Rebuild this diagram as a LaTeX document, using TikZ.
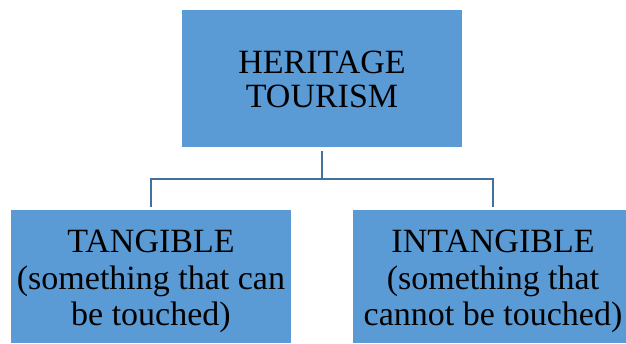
\documentclass[tikz,border=0pt]{standalone}
\usepackage{fontspec}
\setmainfont{Liberation Serif}
\definecolor{boxfill}{HTML}{5B9BD5}
\definecolor{linecol}{HTML}{41719C}
\begin{document}
\begin{tikzpicture}[x=1pt,y=-1pt,
  box/.style={rectangle, fill=boxfill, draw=none, inner sep=0pt},
  label/.style={inner sep=0pt, align=center, text=black},
  conn/.style={draw=linecol, line width=2.4pt}]
\useasboundingbox (0,0) rectangle (626,343);
\node[box, minimum width=280pt, minimum height=137pt] (top) at (322,78.5) {};
\node[box, minimum width=280pt, minimum height=133pt] (left) at (151,276.5) {};
\node[box, minimum width=280pt, minimum height=133pt] (right) at (493,276.5) {};
\node[label, font=\fontsize{34}{33.5}\selectfont] (toptext) at ([yshift=-1pt]top.center) {HERITAGE\\TOURISM};
\node[label, font=\fontsize{34}{36.7}\selectfont] (lefttext) at ([yshift=-5pt]left.center) {TANGIBLE\\(something that can\\be touched)};
\node[label, font=\fontsize{34}{36.7}\selectfont] (righttext) at ([yshift=-5pt]right.center) {INTANGIBLE\\(something that\\cannot be touched)};
\coordinate (j) at (322,179);
\draw[conn, shorten <=4pt] (top.south) -- (j);
\draw[conn, shorten <=3pt, shorten >=3pt] (left.north) |- (j) -| (right.north);
\end{tikzpicture}
\end{document}
